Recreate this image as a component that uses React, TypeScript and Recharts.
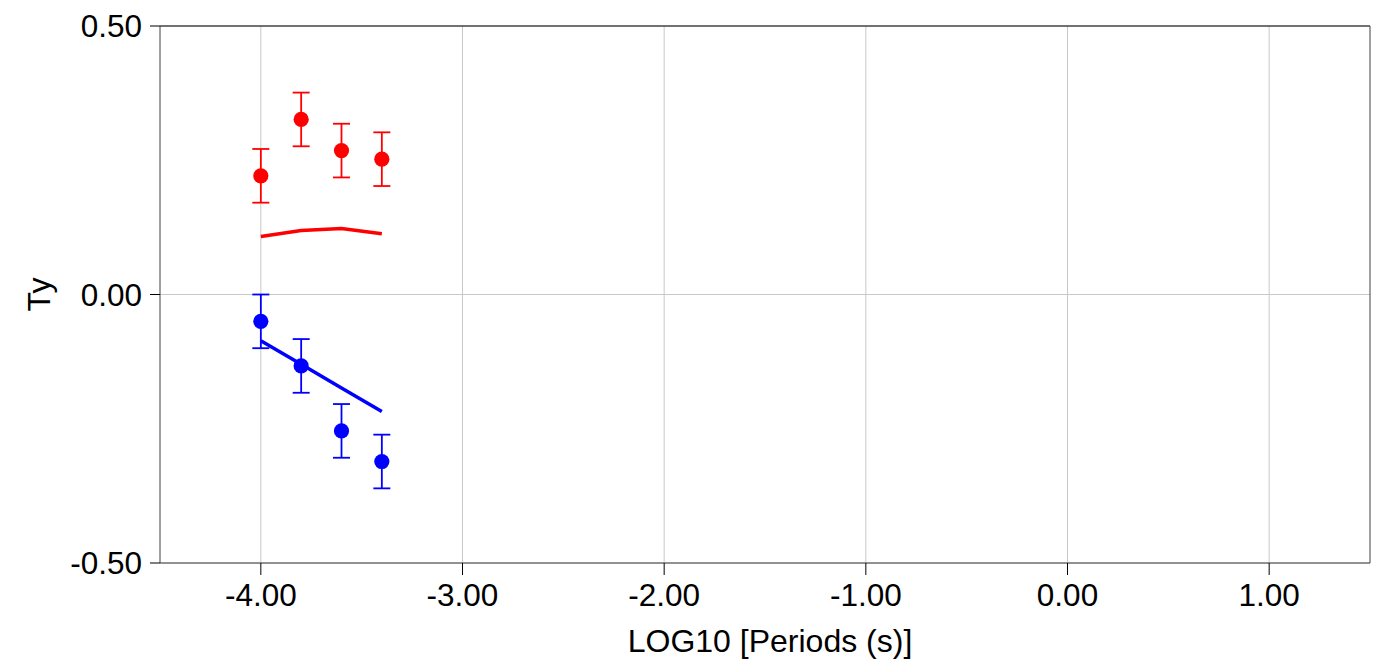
import {
  ComposedChart,
  Scatter,
  Line,
  XAxis,
  YAxis,
  CartesianGrid,
  ErrorBar,
  ReferenceLine,
  Label,
} from 'recharts';

const periods = [-4.0, -3.8, -3.6, -3.4];
const redObserved = [0.221, 0.326, 0.268, 0.252];
const redError = [0.05, 0.05, 0.05, 0.05];
const redModel = [0.108, 0.119, 0.123, 0.113];
const blueObserved = [-0.05, -0.133, -0.254, -0.311];
const blueError = [0.05, 0.05, 0.05, 0.05];
const blueModel = [-0.086, -0.13, -0.174, -0.218];

const xTicks = [-4, -3, -2, -1, 0, 1];
const yTicks = [-0.5, 0, 0.5];

const FONT = '"Liberation Sans", Arial, sans-serif';

const toPoints = (ys: number[], errs?: number[]) =>
  periods.map((x, i) => ({ x, y: ys[i], err: errs ? errs[i] : 0 }));

const redObsData = toPoints(redObserved, redError);
const blueObsData = toPoints(blueObserved, blueError);
const redModelData = toPoints(redModel);
const blueModelData = toPoints(blueModel);

const dot = (color: string) => (props: any) =>
  <circle cx={props.cx} cy={props.cy} r={7.6} fill={color} />;

export default function App() {
  return (
    <div style={{ position: 'absolute', left: 0, top: 0, background: '#fff' }}>
      <ComposedChart
        width={1382}
        height={663}
        margin={{ top: 26, right: 12, bottom: 0, left: 0 }}
      >
        <CartesianGrid
          stroke="#c8c8c8"
          strokeWidth={1}
          horizontalValues={yTicks}
          verticalValues={xTicks}
        />
        <XAxis
          type="number"
          dataKey="x"
          domain={[-4.5, 1.5]}
          ticks={xTicks}
          allowDataOverflow
          tickFormatter={(v: number) => v.toFixed(2)}
          height={100}
          tickSize={12}
          tickMargin={9}
          stroke="#404040"
          tickLine={{ stroke: '#000' }}
          tick={{ fontSize: 31.5, fill: '#000', fontFamily: FONT }}
        >
          <Label
            value="LOG10 [Periods (s)]"
            position="insideBottom"
            offset={11}
            dx={5}
            style={{ fontSize: 32, fill: '#000', fontFamily: FONT }}
          />
        </XAxis>
        <YAxis
          type="number"
          dataKey="y"
          domain={[-0.5, 0.5]}
          ticks={yTicks}
          allowDataOverflow
          tickFormatter={(v: number) => v.toFixed(2)}
          width={160}
          tickSize={10}
          tickMargin={8}
          stroke="#404040"
          tickLine={{ stroke: '#000' }}
          tick={{ fontSize: 31.5, fill: '#000', fontFamily: FONT }}
          label={{
            content: (p: any) => {
              const vb = p.viewBox;
              const cx = vb.x + 39;
              const cy = vb.y + vb.height / 2;
              return (
                <text
                  x={cx}
                  y={cy}
                  transform={`rotate(-90 ${cx} ${cy})`}
                  textAnchor="middle"
                  dominantBaseline="central"
                  style={{ fontSize: 32, fill: '#000', fontFamily: FONT }}
                >
                  Ty
                </text>
              );
            },
          }}
        />
        <ReferenceLine y={0.5} stroke="#000" strokeWidth={1} />
        <ReferenceLine x={1.5} stroke="#404040" strokeWidth={1} />
        <Line
          data={redModelData}
          dataKey="y"
          type="linear"
          stroke="#ff0000"
          strokeWidth={3.5}
          dot={false}
          activeDot={false}
          isAnimationActive={false}
        />
        <Line
          data={blueModelData}
          dataKey="y"
          type="linear"
          stroke="#0000ff"
          strokeWidth={3.5}
          dot={false}
          activeDot={false}
          isAnimationActive={false}
        />
        <Scatter
          data={redObsData}
          dataKey="y"
          shape={dot('#ff0000')}
          isAnimationActive={false}
        >
          <ErrorBar
            dataKey="err"
            direction="y"
            width={8.5}
            stroke="#ff0000"
            strokeWidth={1.8}
            isAnimationActive={false}
          />
        </Scatter>
        <Scatter
          data={blueObsData}
          dataKey="y"
          shape={dot('#0000ff')}
          isAnimationActive={false}
        >
          <ErrorBar
            dataKey="err"
            direction="y"
            width={8.5}
            stroke="#0000ff"
            strokeWidth={1.8}
            isAnimationActive={false}
          />
        </Scatter>
      </ComposedChart>
    </div>
  );
}
